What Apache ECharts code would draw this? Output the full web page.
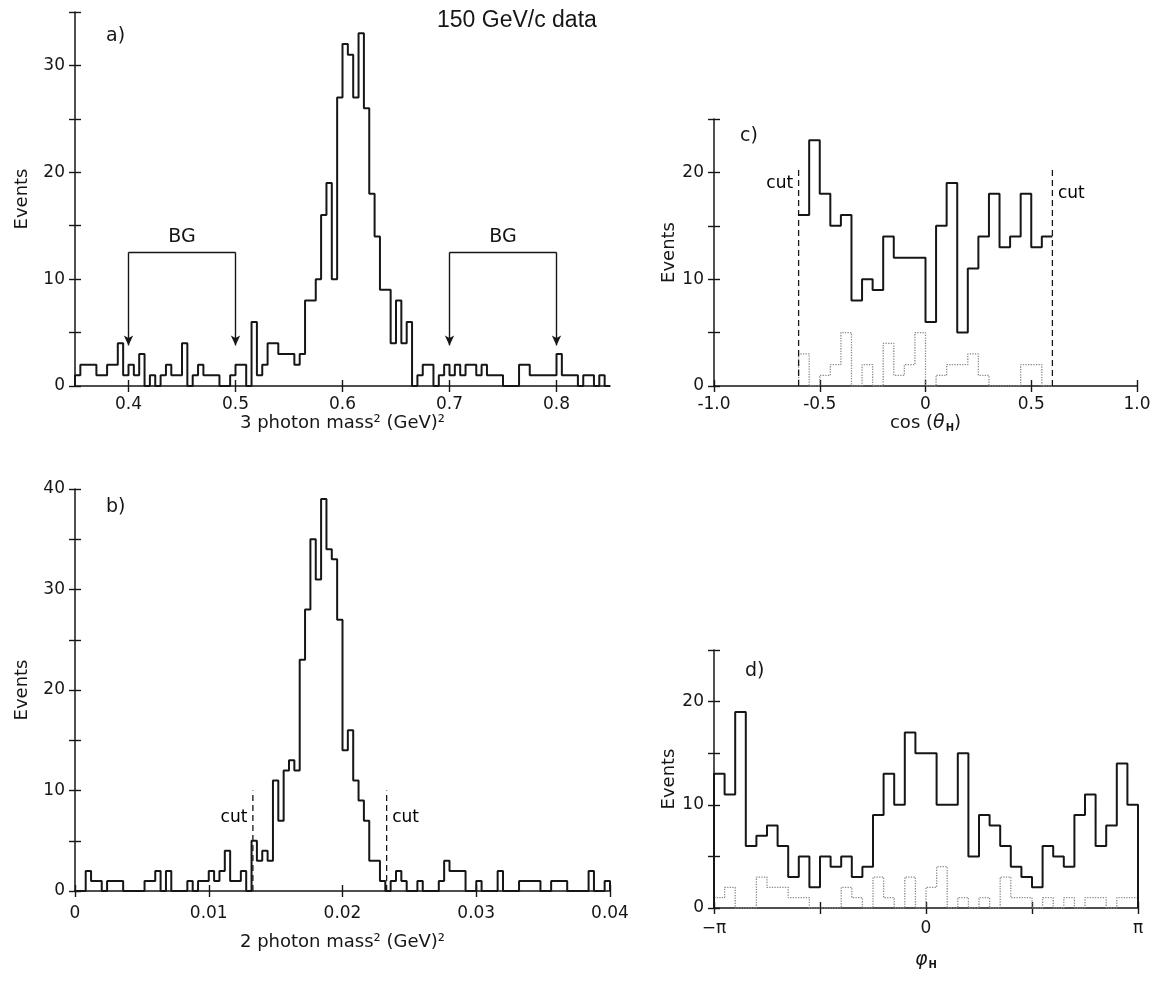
<!DOCTYPE html>
<html>
<head>
<meta charset="utf-8">
<script src="https://cdn.jsdelivr.net/npm/echarts@6/dist/echarts.min.js"></script>
<style>
  html, body { margin: 0; padding: 0; background: #fff; }
  #chart { width: 1156px; height: 997px; }
</style>
</head>
<body>
<div id="chart"></div>
<script>
// a) 3 photon mass^2, bins of 0.005 from 0.35
const mass3Start = 0.35;
const mass3Width = 0.005;
const mass3Events = [
  1, 2, 2, 2, 1, 1, 2, 2, 4, 1,
  2, 1, 3, 0, 1, 0, 1, 2, 1, 1,
  4, 0, 1, 2, 1, 1, 1, 0, 0, 1,
  2, 2, 0, 6, 1, 2, 4, 4, 3, 3,
  3, 2, 3, 8, 8, 10, 16, 19, 10, 27,
  32, 31, 27, 33, 26, 18, 14, 9, 9, 4,
  8, 4, 6, 0, 1, 2, 2, 0, 1, 2,
  1, 2, 1, 2, 2, 1, 2, 1, 1, 1,
  0, 0, 0, 2, 2, 1, 1, 1, 1, 1,
  3, 1, 1, 1, 0, 1, 1, 0, 1, 0
];
const bgWindows = [[0.4, 0.5], [0.7, 0.8]];
const bgTop = 12.5;
const bgArrowTip = 3.8;
const mass3Ticks = [0.4, 0.5, 0.6, 0.7, 0.8];

// b) 2 photon mass^2, bins of 0.0004 from 0
const mass2Start = 0;
const mass2Width = 0.0004;
const mass2Events = [
  0, 0, 2, 1, 1, 0, 1, 1, 1, 0,
  0, 0, 0, 1, 1, 2, 0, 2, 0, 0,
  0, 1, 0, 1, 1, 2, 1, 2, 4, 1,
  1, 2, 0, 5, 3, 4, 3, 11, 7, 12,
  13, 12, 23, 28, 35, 31, 39, 34, 33, 27,
  14, 16, 11, 9, 7, 3, 3, 1, 0, 1,
  2, 1, 0, 0, 1, 0, 0, 0, 1, 3,
  2, 2, 2, 0, 0, 1, 0, 0, 0, 2,
  0, 0, 0, 1, 1, 1, 1, 0, 0, 1,
  1, 1, 0, 0, 0, 0, 2, 0, 0, 1
];
const mass2Cuts = [0.0133, 0.0233];
const mass2CutTop = 10;
const mass2Ticks = [0, 0.01, 0.02, 0.03, 0.04];

// c) cos(theta_H), bins of 0.05 from -0.6
const cosStart = -0.6;
const cosWidth = 0.05;
const cosEvents = [16, 23, 18, 15, 16, 8, 10, 9, 14, 12, 12, 12, 6, 15, 19, 5, 11, 14, 18, 13, 14, 18, 13, 14];
const cosBackground = [3, 0, 1, 2, 5, 0, 2, 0, 4, 1, 2, 5, 0, 1, 2, 2, 3, 1, 0, 0, 0, 2, 2, 0];
const cosCuts = [-0.6, 0.6];
const cosCutTop = 20.5;
const cosTicks = [-1, -0.5, 0, 0.5, 1];

// d) phi_H, bins of pi/20 from -pi
const phiStart = -Math.PI;
const phiWidth = Math.PI / 20;
const phiEvents = [
  13, 11, 19, 6, 7, 8, 6, 3, 5, 2,
  5, 4, 5, 3, 4, 9, 13, 10, 17, 15,
  15, 10, 10, 15, 5, 9, 8, 6, 4, 3,
  2, 6, 5, 4, 9, 11, 6, 8, 14, 10
];
const phiBackground = [
  1, 2, 0, 0, 3, 2, 2, 1, 1, 0,
  0, 0, 2, 1, 0, 3, 1, 0, 3, 0,
  2, 4, 0, 1, 0, 1, 0, 3, 1, 1,
  0, 1, 0, 1, 0, 1, 1, 0, 1, 1
];
const phiTicks = [-Math.PI, -Math.PI / 2, 0, Math.PI / 2, Math.PI];
const phiLabels = [-Math.PI, 0, Math.PI];

const FONT = 'DejaVu Sans';
const INK = '#161616';

// histogram outline as step points (bin edges)
function stepData(start, width, values, closeStart, closeEnd) {
  const pts = [];
  const n = values.length;
  if (closeStart) pts.push([start, 0]);
  values.forEach((v, i) => pts.push([start + i * width, v]));
  pts.push([start + n * width, values[n - 1]]);
  if (closeEnd) pts.push([start + n * width, 0]);
  return pts;
}

function xPair(grid, min, max, ticks, labels, fmt, name, gap, margin, nameRich) {
  const tickStyle = { color: INK, width: 1.4 };
  return [
    {
      type: 'value', gridIndex: grid, position: 'bottom', min: min, max: max,
      name: name, nameLocation: 'middle', nameGap: gap,
      nameTextStyle: { color: INK, fontSize: 18, fontFamily: FONT, rich: nameRich },
      splitLine: { show: false },
      axisLine: { show: true, onZero: false, lineStyle: { color: INK, width: 1.5 } },
      axisTick: { show: true, customValues: ticks, length: 6, lineStyle: tickStyle },
      axisLabel: { customValues: labels, formatter: fmt, color: INK, fontSize: 17, fontFamily: FONT, margin: margin }
    },
    {
      type: 'value', gridIndex: grid, position: 'bottom', min: min, max: max,
      splitLine: { show: false },
      axisLine: { show: false, onZero: false },
      axisTick: { show: true, inside: true, customValues: ticks, length: 6, lineStyle: tickStyle },
      axisLabel: { show: false }
    }
  ];
}

function yPair(grid, max, gap) {
  const tickStyle = { color: INK, width: 1.4 };
  return [
    {
      type: 'value', gridIndex: grid, position: 'left', min: 0, max: max, interval: 5,
      name: 'Events', nameLocation: 'middle', nameGap: gap, nameRotate: 90,
      nameTextStyle: { color: INK, fontSize: 18, fontFamily: FONT },
      splitLine: { show: false },
      axisLine: { show: true, onZero: false, lineStyle: { color: INK, width: 1.5 } },
      axisTick: { show: true, length: 6, lineStyle: tickStyle },
      axisLabel: {
        color: INK, fontSize: 17, fontFamily: FONT, margin: 10,
        formatter: v => (v % 10 === 0 ? String(v) : '')
      }
    },
    {
      type: 'value', gridIndex: grid, position: 'left', min: 0, max: max, interval: 5,
      splitLine: { show: false },
      axisLine: { show: false, onZero: false },
      axisTick: { show: true, inside: true, length: 6, lineStyle: tickStyle },
      axisLabel: { show: false }
    }
  ];
}

const solid = { color: INK, width: 2 };
const dotted = { color: '#8a8a8a', width: 1.3, type: 'dotted' };
const dashed = { color: INK, width: 1.3, type: [6, 4] };

function hist(xi, data, style) {
  return {
    type: 'line', step: 'end', xAxisIndex: xi, yAxisIndex: xi, data: data,
    symbol: 'none', lineStyle: style, silent: true, z: 3
  };
}
function vline(xi, x, lo, hi) {
  return {
    type: 'line', xAxisIndex: xi, yAxisIndex: xi, data: [[x, lo], [x, hi]],
    symbol: 'none', lineStyle: dashed, silent: true
  };
}
function textAt(xi, x, y, text, pos) {
  return {
    type: 'scatter', xAxisIndex: xi, yAxisIndex: xi, data: [[x, y]],
    symbol: 'circle', symbolSize: 1, itemStyle: { color: 'rgba(0,0,0,0)' }, silent: true,
    label: { show: true, position: pos, distance: 5, formatter: text, color: '#000', opacity: 1, fontSize: 17, fontFamily: FONT }
  };
}

// BG brackets as mark lines on panel a
const bgMarks = [];
bgWindows.forEach(w => {
  bgMarks.push([{ coord: [w[0], bgTop], symbol: 'none' }, { coord: [w[0], bgArrowTip], symbol: 'arrow' }]);
  bgMarks.push([{ coord: [w[1], bgTop], symbol: 'none' }, { coord: [w[1], bgArrowTip], symbol: 'arrow' }]);
  bgMarks.push([
    { coord: [w[0], bgTop], symbol: 'none', label: { show: true, position: 'middle', formatter: 'BG', color: INK, fontSize: 19, fontFamily: FONT, distance: 6 } },
    { coord: [w[1], bgTop], symbol: 'none' }
  ]);
});

const subRich = {
  t: { fontSize: 18, fontFamily: FONT, color: INK },
  i: { fontSize: 19, fontFamily: FONT, fontStyle: 'italic', color: INK },
  s: { fontSize: 10, fontFamily: FONT, fontWeight: 'bold', color: INK, verticalAlign: 'bottom', padding: [10, 0, 0, 1] }
};

const xAxes = [].concat(
  xPair(0, 0.35, 0.85, mass3Ticks, mass3Ticks, v => v.toFixed(1), '3 photon mass² (GeV)²', 20, 10),
  xPair(1, 0, 0.04, mass2Ticks, mass2Ticks, v => (v === 0 ? '0' : v.toFixed(2)), '2 photon mass² (GeV)²', 42, 14),
  xPair(2, -1, 1, cosTicks, cosTicks, v => (v === 0 ? '0' : v.toFixed(1)), '{t|cos (}{i|θ}{s|H}{t|)}', 22, 10, subRich),
  xPair(3, -Math.PI, Math.PI, phiTicks, phiLabels, v => (v < 0 ? '−π' : (v > 0 ? 'π' : '0')), '{i|φ}{s|H}', 42, 12, subRich)
);
const yAxes = [].concat(yPair(0, 35, 44), yPair(1, 40, 44), yPair(2, 25, 28), yPair(3, 25, 28));

// main axes sit at even indices
const A = 0, B = 2, C = 4, D = 6;

const series = [
  Object.assign(hist(A, stepData(mass3Start, mass3Width, mass3Events, true, true), solid), {
    markLine: { silent: true, animation: false, symbolSize: [7, 10], lineStyle: { color: INK, width: 1.4, type: 'solid' }, label: { show: false }, data: bgMarks }
  }),
  hist(B, stepData(mass2Start, mass2Width, mass2Events, true, true), solid),
  vline(B, mass2Cuts[0], 0, mass2CutTop),
  vline(B, mass2Cuts[1], 0, mass2CutTop),
  textAt(B, mass2Cuts[0], 7.3, 'cut', 'left'),
  textAt(B, mass2Cuts[1], 7.3, 'cut', 'right'),
  hist(C, stepData(cosStart, cosWidth, cosBackground, true, true), dotted),
  hist(C, stepData(cosStart, cosWidth, cosEvents, false, false), solid),
  vline(C, cosCuts[0], 0, cosCutTop),
  vline(C, cosCuts[1], 0, cosCutTop),
  textAt(C, cosCuts[0], 19, 'cut', 'left'),
  textAt(C, cosCuts[1], 18, 'cut', 'right'),
  hist(D, stepData(phiStart, phiWidth, phiBackground, true, true), dotted),
  hist(D, stepData(phiStart, phiWidth, phiEvents, true, true), solid)
];

const panelLabel = (text, left, top) => ({
  text: text, left: left, top: top,
  textStyle: { color: INK, fontSize: 19, fontWeight: 'normal', fontFamily: FONT }
});

const option = {
  backgroundColor: '#fff',
  animation: false,
  title: [
    { text: '150 GeV/c data', left: 432, top: 4, textStyle: { color: INK, fontSize: 23, fontWeight: 'normal', fontFamily: 'Liberation Sans' } },
    panelLabel('a)', 101, 22),
    panelLabel('b)', 101, 493),
    panelLabel('c)', 735, 122),
    panelLabel('d)', 740, 657)
  ],
  grid: [
    { left: 75, top: 12, width: 535, height: 374 },
    { left: 75, top: 489, width: 535, height: 402 },
    { left: 714, top: 119, width: 423, height: 267 },
    { left: 714, top: 650, width: 424, height: 258 }
  ],
  xAxis: xAxes,
  yAxis: yAxes,
  series: series
};

const chart = echarts.init(document.getElementById('chart'));
chart.setOption(option);
</script>
</body>
</html>
